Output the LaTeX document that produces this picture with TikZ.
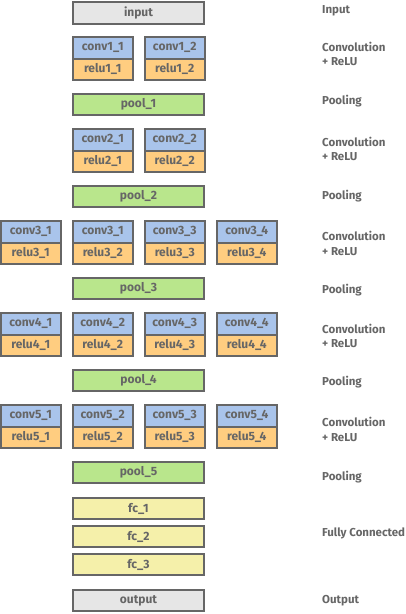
\documentclass[tikz,border=0pt]{standalone}
\usepackage{fontspec}
\setmainfont{Fira Sans}
\definecolor{bordc}{HTML}{666666}
\definecolor{txtc}{HTML}{666666}
\definecolor{grayf}{HTML}{E6E6E6}
\definecolor{bluef}{HTML}{A9C4EB}
\definecolor{orangef}{HTML}{FFCD80}
\definecolor{greenf}{HTML}{B9E68C}
\definecolor{yellowf}{HTML}{F5F0AA}
\tikzset{
  box/.style={draw=bordc, line width=2pt, text=txtc, font=\fontsize{12}{14}\selectfont\bfseries, inner sep=0pt, minimum height=21.5pt},
  small/.style={box, minimum width=59.5pt},
  wide/.style={box, minimum width=131pt},
  convbox/.style={small, fill=bluef},
  relubox/.style={small, fill=orangef},
  poolbox/.style={wide, fill=greenf},
  fcbox/.style={wide, fill=yellowf},
  iobox/.style={wide, fill=grayf},
  lbl/.style={anchor=west, text=txtc, font=\fontsize{11.5}{14.5}\selectfont\bfseries, align=left, inner sep=0pt}
}
\begin{document}
\begin{tikzpicture}[x=1pt, y=-1pt]
\useasboundingbox (0,0) rectangle (406,614);
\node[iobox] (input) at (138.5,13) {input};
\node[lbl] (Linput) at (322,10.5) {Input};
% conv1
\node[convbox] (c11) at (102.75,47.75) {conv1\_1};
\node[relubox] (r11) at (102.75,69.25) {relu1\_1};
\node[convbox] (c12) at (174.75,47.75) {conv1\_2};
\node[relubox] (r12) at (174.75,69.25) {relu1\_2};
\node[lbl] (Lc1) at (322,54) {Convolution\\+ ReLU};
\node[poolbox] (p1) at (138.5,104.5) {pool\_1};
\node[lbl] (Lp1) at (322,101) {Pooling};
% conv2
\node[convbox] (c21) at (102.75,139.75) {conv2\_1};
\node[relubox] (r21) at (102.75,161.25) {relu2\_1};
\node[convbox] (c22) at (174.75,139.75) {conv2\_2};
\node[relubox] (r22) at (174.75,161.25) {relu2\_2};
\node[lbl] (Lc2) at (322,149) {Convolution\\+ ReLU};
\node[poolbox] (p2) at (138.5,196.5) {pool\_2};
\node[lbl] (Lp2) at (322,196.5) {Pooling};
% conv3
\node[convbox] (c31) at (30.75,231.75) {conv3\_1};
\node[relubox] (r31) at (30.75,253.25) {relu3\_1};
\node[convbox] (c32) at (102.75,231.75) {conv3\_1};
\node[relubox] (r32) at (102.75,253.25) {relu3\_2};
\node[convbox] (c33) at (174.75,231.75) {conv3\_3};
\node[relubox] (r33) at (174.75,253.25) {relu3\_3};
\node[convbox] (c34) at (246.75,231.75) {conv3\_4};
\node[relubox] (r34) at (246.75,253.25) {relu3\_4};
\node[lbl] (Lc3) at (322,243.5) {Convolution\\+ ReLU};
\node[poolbox] (p3) at (138.5,288.5) {pool\_3};
\node[lbl] (Lp3) at (322,290.5) {Pooling};
% conv4
\node[convbox] (c41) at (30.75,323.75) {conv4\_1};
\node[relubox] (r41) at (30.75,345.25) {relu4\_1};
\node[convbox] (c42) at (102.75,323.75) {conv4\_2};
\node[relubox] (r42) at (102.75,345.25) {relu4\_2};
\node[convbox] (c43) at (174.75,323.75) {conv4\_3};
\node[relubox] (r43) at (174.75,345.25) {relu4\_3};
\node[convbox] (c44) at (246.75,323.75) {conv4\_4};
\node[relubox] (r44) at (246.75,345.25) {relu4\_4};
\node[lbl] (Lc4) at (322,336) {Convolution\\+ ReLU};
\node[poolbox] (p4) at (138.5,380.5) {pool\_4};
\node[lbl] (Lp4) at (322,382.5) {Pooling};
% conv5
\node[convbox] (c51) at (30.75,415.75) {conv5\_1};
\node[relubox] (r51) at (30.75,437.25) {relu5\_1};
\node[convbox] (c52) at (102.75,415.75) {conv5\_2};
\node[relubox] (r52) at (102.75,437.25) {relu5\_2};
\node[convbox] (c53) at (174.75,415.75) {conv5\_3};
\node[relubox] (r53) at (174.75,437.25) {relu5\_3};
\node[convbox] (c54) at (246.75,415.75) {conv5\_4};
\node[relubox] (r54) at (246.75,437.25) {relu5\_4};
\node[lbl] (Lc5) at (322,429.5) {Convolution\\+ ReLU};
\node[poolbox] (p5) at (138.5,472.5) {pool\_5};
\node[lbl] (Lp5) at (322,477) {Pooling};
% fc
\node[fcbox] (fc1) at (138.5,508.5) {fc\_1};
\node[fcbox] (fc2) at (138.5,536.5) {fc\_2};
\node[fcbox] (fc3) at (138.5,564.5) {fc\_3};
\node[lbl] (Lfc) at (322,533) {Fully Connected};
\node[iobox] (output) at (138.5,600.5) {output};
\node[lbl] (Lout) at (322,600.5) {Output};
\end{tikzpicture}
\end{document}
